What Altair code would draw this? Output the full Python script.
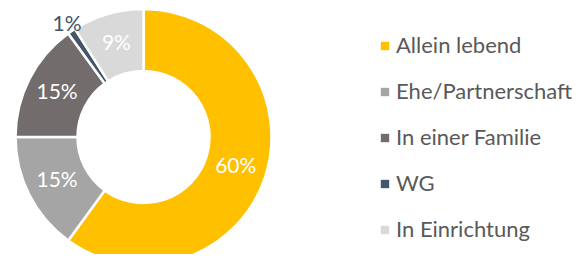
import altair as alt
import pandas as pd

categories = ["Allein lebend", "Ehe/Partnerschaft", "In einer Familie", "WG", "In Einrichtung"]
values = [60, 15, 15, 1, 9]
labels = ["60%", "15%", "15%", "1%", "9%"]
colors = ["#FFC000", "#A5A5A5", "#726D6C", "#44546A", "#D9D9D9"]
inside = [True, True, True, False, True]

df = pd.DataFrame({
    "cat": categories,
    "val": values,
    "label": labels,
    "ord": list(range(len(categories))),
    "inside": inside,
})

FONT = "Lato"
theta_scale = alt.Scale(domain=[0, 100])
CX, CY = 135.5, 129

color = alt.Color(
    "cat:N",
    scale=alt.Scale(domain=categories, range=colors),
    sort=categories,
    legend=alt.Legend(
        title=None,
        orient="none",
        legendX=366,
        legendY=27,
        symbolType="square",
        symbolSize=70,
        symbolStrokeWidth=0,
        labelFontSize=22,
        labelFont=FONT,
        labelColor="#595959",
        labelOffset=0,
        rowPadding=24,
        labelLimit=300,
    ),
)

arcs = alt.Chart(df).mark_arc(
    innerRadius=66, outerRadius=128, stroke="white", strokeWidth=2.5
).encode(
    theta=alt.Theta("val:Q", stack=True, scale=theta_scale),
    order=alt.Order("ord:Q"),
    color=color,
    x=alt.value(CX),
    y=alt.value(CY),
)

lab = alt.Chart(df).transform_window(
    cum="sum(val)", sort=[alt.SortField("ord")], frame=[None, 0]
).transform_calculate(
    mid="datum.cum - datum.val / 2"
)

txt_in = lab.transform_filter("datum.inside").mark_text(
    radius=97, fontSize=21, font=FONT, color="white"
).encode(theta=alt.Theta("mid:Q", scale=theta_scale), text="label:N",
         x=alt.value(CX), y=alt.value(CY))

txt_out = lab.transform_filter("!datum.inside").mark_text(
    radius=136, fontSize=21, font=FONT, color="#44546A"
).encode(theta=alt.Theta("mid:Q", scale=theta_scale), text="label:N",
         x=alt.value(CX), y=alt.value(CY))

chart = alt.layer(arcs, txt_in, txt_out).properties(
    width=572, height=246, padding=0,
    autosize=alt.AutoSizeParams(type="none"),
).configure_view(stroke=None)

chart.save("out.html", embed_options={"renderer": "svg", "actions": False})
